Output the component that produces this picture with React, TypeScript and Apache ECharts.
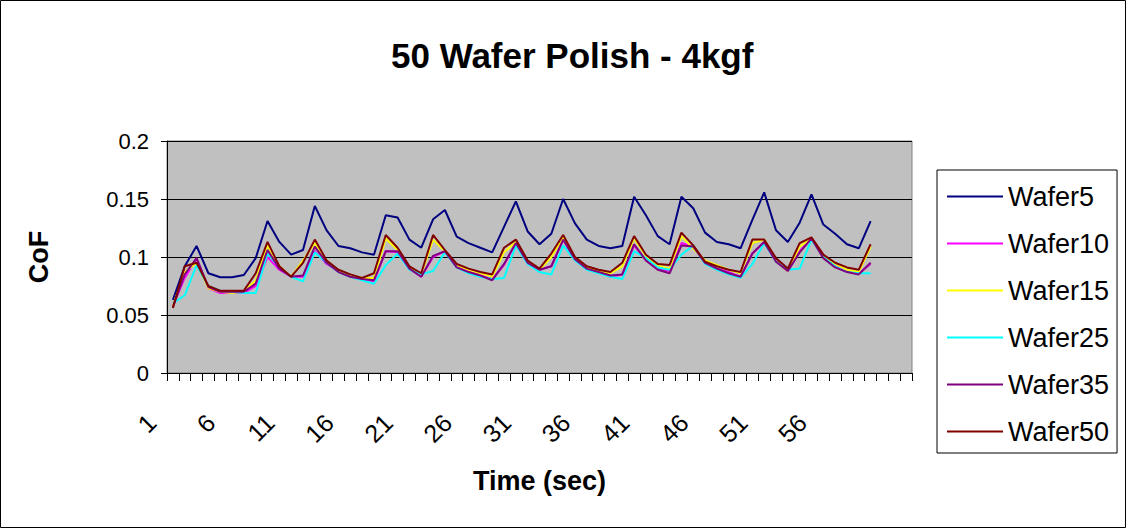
import React, { useEffect, useRef } from "react";
import * as echarts from "echarts";

const FONT = "'Liberation Sans', Arial, sans-serif";

// 63 category slots on the axis; data present for 1..60
const categories: string[] = Array.from({ length: 63 }, (_, i) => (i < 60 ? String(i + 1) : ""));

const seriesNames = ["Wafer5", "Wafer10", "Wafer15", "Wafer25", "Wafer35", "Wafer50"];
const seriesColors = ["#000080", "#FF00FF", "#FFFF00", "#00FFFF", "#800080", "#800000"];

const wafer5 = [
  0.063, 0.092, 0.1095, 0.086, 0.0825, 0.0825, 0.0845, 0.099, 0.131, 0.113,
  0.102, 0.106, 0.144, 0.123, 0.1095, 0.1075, 0.104, 0.102, 0.136, 0.134,
  0.115, 0.108, 0.1325, 0.1405, 0.1175, 0.112, 0.108, 0.104, 0.126, 0.148,
  0.122, 0.111, 0.12, 0.15, 0.129, 0.115, 0.1095, 0.1075, 0.1095, 0.152,
  0.136, 0.118, 0.111, 0.152, 0.142, 0.121, 0.113, 0.111, 0.1075, 0.132,
  0.1557, 0.123, 0.113, 0.1296, 0.154, 0.128, 0.12, 0.111, 0.1075, 0.131,
];
const wafer10 = [
  0.058, 0.082, 0.099, 0.073, 0.069, 0.069, 0.069, 0.075, 0.1, 0.089,
  0.083, 0.083, 0.105, 0.094, 0.088, 0.083, 0.081, 0.079, 0.105, 0.104,
  0.09, 0.083, 0.1, 0.105, 0.092, 0.088, 0.085, 0.081, 0.093, 0.112,
  0.095, 0.089, 0.092, 0.115, 0.098, 0.09, 0.087, 0.083, 0.085, 0.11,
  0.097, 0.09, 0.088, 0.112, 0.109, 0.095, 0.09, 0.087, 0.083, 0.103,
  0.113, 0.097, 0.088, 0.105, 0.116, 0.102, 0.093, 0.088, 0.086, 0.094,
];
const wafer15 = [
  0.058, 0.087, 0.095, 0.073, 0.07, 0.069, 0.07, 0.08, 0.11, 0.092,
  0.083, 0.097, 0.112, 0.097, 0.088, 0.084, 0.082, 0.082, 0.116, 0.106,
  0.091, 0.085, 0.115, 0.105, 0.093, 0.089, 0.086, 0.083, 0.104, 0.113,
  0.096, 0.089, 0.1, 0.117, 0.099, 0.091, 0.088, 0.086, 0.092, 0.116,
  0.101, 0.093, 0.09, 0.118, 0.107, 0.097, 0.093, 0.089, 0.086, 0.112,
  0.115, 0.097, 0.088, 0.109, 0.116, 0.101, 0.094, 0.089, 0.087, 0.109,
];
const wafer25 = [
  0.06, 0.067, 0.093, 0.075, 0.071, 0.07, 0.069, 0.069, 0.103, 0.091,
  0.083, 0.079, 0.104, 0.095, 0.087, 0.083, 0.08, 0.077, 0.093, 0.103,
  0.089, 0.085, 0.088, 0.104, 0.091, 0.086, 0.083, 0.081, 0.082, 0.11,
  0.094, 0.087, 0.085, 0.11, 0.097, 0.089, 0.086, 0.083, 0.081, 0.105,
  0.099, 0.091, 0.089, 0.102, 0.11, 0.094, 0.089, 0.085, 0.082, 0.094,
  0.112, 0.096, 0.089, 0.09, 0.115, 0.1, 0.092, 0.087, 0.086, 0.086,
];
const wafer35 = [
  0.057, 0.085, 0.099, 0.074, 0.07, 0.07, 0.07, 0.077, 0.106, 0.09,
  0.083, 0.084, 0.109, 0.095, 0.087, 0.083, 0.081, 0.08, 0.105, 0.105,
  0.09, 0.083, 0.101, 0.105, 0.091, 0.087, 0.084, 0.08, 0.094, 0.112,
  0.095, 0.089, 0.092, 0.115, 0.098, 0.09, 0.087, 0.084, 0.085, 0.111,
  0.097, 0.089, 0.086, 0.11, 0.109, 0.095, 0.09, 0.086, 0.083, 0.103,
  0.113, 0.096, 0.088, 0.104, 0.116, 0.099, 0.091, 0.087, 0.085, 0.095,
];
const wafer50 = [
  0.056, 0.092, 0.095, 0.075, 0.071, 0.071, 0.071, 0.086, 0.113, 0.092,
  0.083, 0.095, 0.115, 0.097, 0.089, 0.085, 0.082, 0.086, 0.119, 0.108,
  0.092, 0.086, 0.119, 0.106, 0.094, 0.09, 0.087, 0.085, 0.108, 0.115,
  0.097, 0.09, 0.103, 0.119, 0.1, 0.092, 0.089, 0.087, 0.095, 0.118,
  0.102, 0.094, 0.093, 0.121, 0.11, 0.096, 0.092, 0.089, 0.087, 0.115,
  0.115, 0.099, 0.09, 0.112, 0.117, 0.102, 0.095, 0.091, 0.089, 0.111,
];

const seriesData = [wafer5, wafer10, wafer15, wafer25, wafer35, wafer50];
const yTicks = [0, 0.05, 0.1, 0.15, 0.2];

export default function App() {
  const ref = useRef<HTMLDivElement>(null);
  useEffect(() => {
    document.body.style.margin = "0";
    const chart = echarts.init(ref.current!, null, { renderer: "svg" });
    chart.setOption({
      animation: false,
      backgroundColor: "#ffffff",
      title: {
        text: "50 Wafer Polish - 4kgf",
        left: 386,
        top: 33,
        textStyle: { fontFamily: FONT, fontSize: 35, fontWeight: "bold", color: "#000" },
      },
      graphic: [
        {
          type: "rect",
          shape: { x: 0.5, y: 0.5, width: 1125, height: 527 },
          style: { fill: "none", stroke: "#000", lineWidth: 1 },
          silent: true,
          z: 100,
        },
      ],
      legend: {
        orient: "vertical",
        left: 937,
        top: 170,
        padding: [13, 8, 8, 10],
        icon: "rect",
        itemWidth: 56,
        itemHeight: 2,
        itemGap: 20,
        borderColor: "#000",
        borderWidth: 1,
        backgroundColor: "#fff",
        data: seriesNames,
        textStyle: { fontFamily: FONT, fontSize: 27, color: "#000", lineHeight: 27 },
      },
      grid: {
        left: 167,
        top: 141,
        width: 745,
        height: 232,
        show: true,
        backgroundColor: "#C0C0C0",
        borderColor: "#808080",
        borderWidth: 1,
      },
      xAxis: {
        type: "category",
        data: categories,
        boundaryGap: true,
        name: "Time (sec)",
        nameLocation: "middle",
        nameGap: 94,
        nameTextStyle: { fontFamily: FONT, fontSize: 27, fontWeight: "bold", color: "#000" },
        axisLine: { lineStyle: { color: "#000", width: 1 } },
        axisTick: { show: true, interval: 0, length: 8, lineStyle: { color: "#000" } },
        axisLabel: {
          interval: 4,
          rotate: 45,
          margin: 24,
          padding: [0, 30, 0, 0],
          fontFamily: FONT,
          fontSize: 25,
          color: "#000",
        },
        splitLine: { show: false },
      },
      yAxis: {
        type: "value",
        min: yTicks[0],
        max: yTicks[yTicks.length - 1],
        interval: 0.05,
        name: "CoF",
        nameLocation: "middle",
        nameRotate: 90,
        nameGap: 115,
        nameTextStyle: { fontFamily: FONT, fontSize: 27, fontWeight: "bold", color: "#000" },
        axisLine: { show: true, lineStyle: { color: "#000", width: 1 } },
        axisTick: { show: true, length: 6, lineStyle: { color: "#000" } },
        axisLabel: {
          margin: 18,
          fontFamily: FONT,
          fontSize: 22,
          color: "#000",
          formatter: (v: number) => String(+v.toFixed(2)),
        },
        splitLine: { show: true, lineStyle: { color: "#000", width: 1 } },
      },
      series: seriesNames.map((name, i) => ({
        name,
        type: "line",
        data: seriesData[i],
        symbol: "none",
        showSymbol: false,
        color: seriesColors[i],
        lineStyle: { color: seriesColors[i], width: 2 },
        z: 2 + i,
      })),
    });
    return () => chart.dispose();
  }, []);
  return <div ref={ref} style={{ width: 1127, height: 529 }} />;
}
